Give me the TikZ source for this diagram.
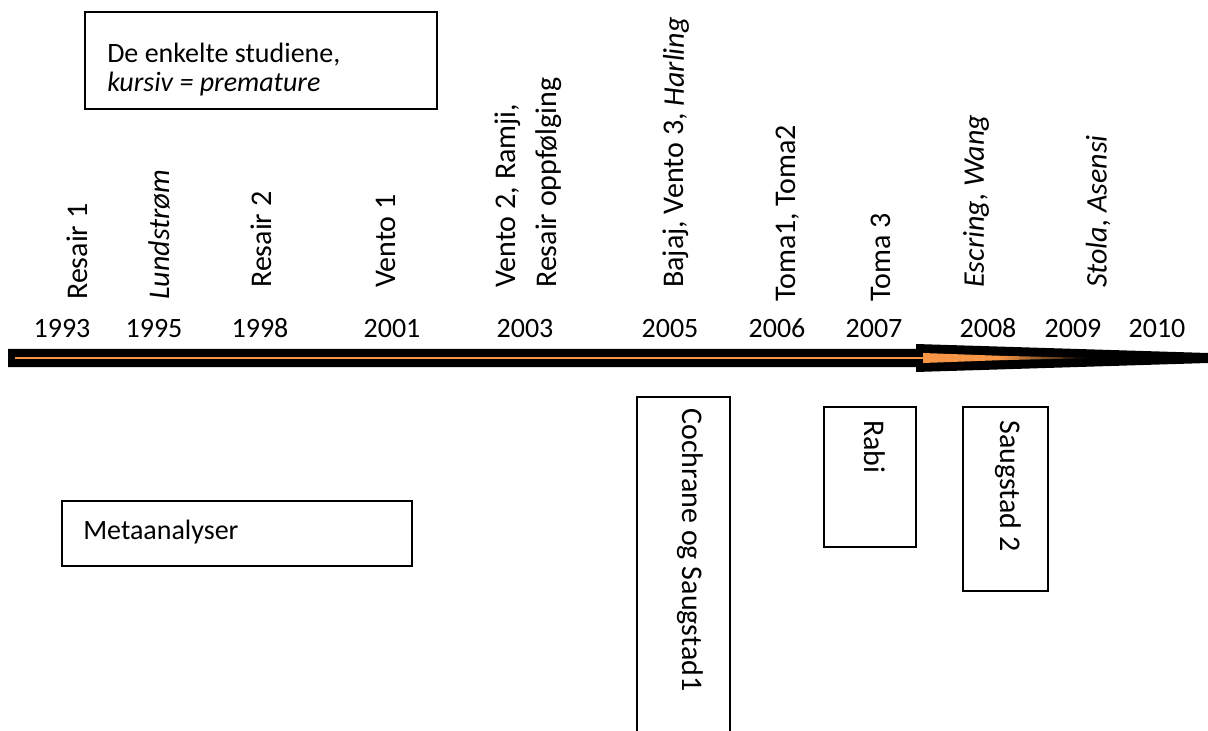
\documentclass[tikz,border=0pt]{standalone}
\usepackage{fontspec}
\setmainfont{Carlito}
\begin{document}
\begin{tikzpicture}[x=.75pt,y=-.75pt,line join=miter]
	\tikzset{every node/.style={font=\fontsize{21}{25}\selectfont,inner sep=0pt},
		box/.style={draw,line width=1.6pt},
		up/.style={rotate=90,anchor=west,font=\fontsize{22.5}{27}\selectfont},
		down/.style={rotate=-90,anchor=west,font=\fontsize{22.5}{27}\selectfont}}
	\definecolor{pil}{HTML}{F79646}
	\useasboundingbox (0,0) rectangle (1208,731);
	% tidslinje
	\fill (8,349)--(916,349)--(916,344)--(1208,353)--(1208,363)--(916,372)--(916,367)--(8,367)--cycle;
	\draw[pil,line width=1.5pt] (15,358)--(923,358);
	\fill[pil] (923,353)--(1000,355.8)--(1000,360.2)--(923,363)--cycle;
	\shade[left color=pil,right color=black] (999.5,355.8)--(1095,358)--(999.5,360.2)--cycle;
	% aarstall
	\foreach \yr/\xx in {1993/62,1995/154,1998/260,2001/392,2003/525,2005/670,
		2006/777,2007/874,2008/988,2009/1073,2010/1157}
		\node[anchor=base] (y\yr) at (\xx,338) {\yr};
	% studiene
	\node[up] (resair1) at (77,300) {Resair 1};
	\node[up] (lund) at (159,300) {\itshape Lundstrøm};
	\node[up] (resair2) at (261,288) {Resair 2};
	\node[up] (vento1) at (386,288) {Vento 1};
	\node[up] (vento2) at (508,288) {Vento 2, Ramji,};
	\node[up] (oppf) at (549,288) {Resair oppfølging};
	\node[up] (bajaj) at (676,288) {Bajaj, Vento 3, \textit{Harling}};
	\node[up] (toma12) at (788,302) {Toma1, Toma2};
	\node[up] (toma3) at (881,302) {Toma 3};
	\node[up] (escring) at (976,288) {\itshape Escring, Wang};
	\node[up] (stola) at (1098,288) {\itshape Stola, Asensi};
	% forklaring
	\draw[box] (85,12) rectangle (437,109);
	\node[anchor=base west] (forkl) at (107,63) {De enkelte studiene,};
	\node[anchor=base west] (kursiv) at (107,92) {\itshape kursiv = premature};
	% metaanalyser
	\draw[box] (62,501) rectangle (412,566);
	\node[anchor=west] (meta) at (83,532) {Metaanalyser};
	\draw[box] (637,740) |- (730,397) -- (730,740);
	\node[down] (cochrane) at (690,408) {Cochrane og Saugstad1};
	\draw[box] (824,407) rectangle (916,547);
	\node[down] (rabi) at (875,420) {Rabi};
	\draw[box] (963,407) rectangle (1048,591);
	\node[down] (saug2) at (1008,420) {Saugstad 2};
\end{tikzpicture}
\end{document}
